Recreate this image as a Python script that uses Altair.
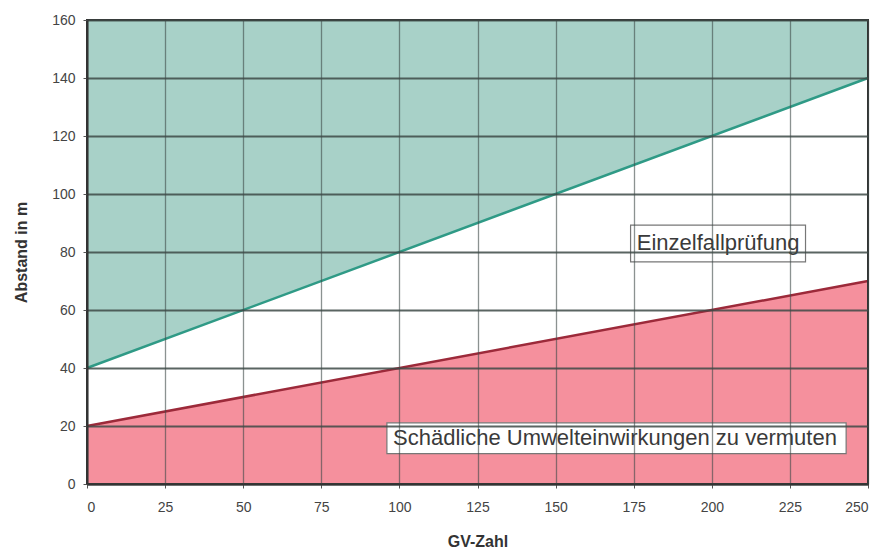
import altair as alt
import pandas as pd

# data
gv = [0, 250]
upper = [40, 140]   # Einzelfallprüfung upper boundary
lower = [20, 70]    # Schädliche Umwelteinwirkungen boundary
top_val = [160, 160]
zero_val = [0, 0]

labels = ["Einzelfallprüfung", "Schädliche Umwelteinwirkungen zu vermuten"]
label_x = [202, 169]
label_y = [83, 15.8]
box_x1 = [174, 96]
box_x2 = [230, 243]
box_y1 = [76.6, 10.5]
box_y2 = [89.3, 21.1]

df = pd.DataFrame({"gv": gv, "upper": upper, "lower": lower, "top": top_val, "zero": zero_val})
lab = pd.DataFrame({"t": labels, "x": label_x, "y": label_y,
                    "x1": box_x1, "x2": box_x2, "y1": box_y1, "y2": box_y2})

xs = alt.Scale(domain=[0, 250], nice=False, zero=False)
ys = alt.Scale(domain=[0, 160], nice=False)

xax = alt.Axis(values=list(range(0, 251, 25)), title="GV-Zahl", grid=True, gridColor="#3d4a47",
               gridWidth=1.3, gridOpacity=0.6, zindex=1, labelFontSize=14, labelColor="#444",
               titleFontSize=16, titleFontWeight="bold", titleColor="#333", titlePadding=19,
               domainColor="#333", domainWidth=2, tickColor="#555", tickSize=4, labelPadding=12)
yax = alt.Axis(values=list(range(0, 161, 20)), title="Abstand in m", grid=True, gridColor="#3d4a47",
               gridWidth=2, gridOpacity=0.85, zindex=1, labelFontSize=14, labelColor="#444",
               titleFontSize=16, titleFontWeight="bold", titleColor="#333", titlePadding=22,
               domainColor="#333", domainWidth=2, tickColor="#555", tickSize=4, labelPadding=8)

base = alt.Chart(df)

teal = base.mark_area(color="#a8d1c8", opacity=1).encode(
    x=alt.X("gv:Q", scale=xs, axis=xax),
    y=alt.Y("upper:Q", scale=ys, axis=yax),
    y2="top:Q",
)
pink = base.mark_area(color="#f5909d", opacity=1).encode(
    x=alt.X("gv:Q", scale=xs),
    y=alt.Y("lower:Q", scale=ys),
    y2="zero:Q",
)
up_line = base.mark_line(color="#2f9a86", strokeWidth=2.5).encode(
    x=alt.X("gv:Q", scale=xs), y=alt.Y("upper:Q", scale=ys))
low_line = base.mark_line(color="#9c2a3a", strokeWidth=2.5).encode(
    x=alt.X("gv:Q", scale=xs), y=alt.Y("lower:Q", scale=ys))

boxes = alt.Chart(lab).mark_rect(fill="white", stroke="#777", strokeWidth=1.2).encode(
    x=alt.X("x1:Q", scale=xs), x2="x2:Q", y=alt.Y("y1:Q", scale=ys), y2="y2:Q")
texts = alt.Chart(lab).mark_text(fontSize=22, color="#3a3a3a",
                                 font="Liberation Sans").encode(
    x=alt.X("x:Q", scale=xs), y=alt.Y("y:Q", scale=ys), text="t:N")

frame = alt.Chart(df).mark_rect(fill=None, stroke="#333", strokeWidth=2).encode(
    x=alt.value(0), x2=alt.value(781), y=alt.value(0), y2=alt.value(464))

chart = alt.layer(teal, pink, up_line, low_line, boxes, texts, frame).properties(
    width=781, height=464,
    autosize=alt.AutoSizeParams(type="none"),
    padding={"left": 79, "top": 12, "right": 10, "bottom": 70},
).configure_view(stroke=None).configure_axis(
    labelFont="Liberation Sans", titleFont="Liberation Sans"
).configure(background="white")

chart.save("out.html", embed_options={"renderer": "svg", "actions": False})
